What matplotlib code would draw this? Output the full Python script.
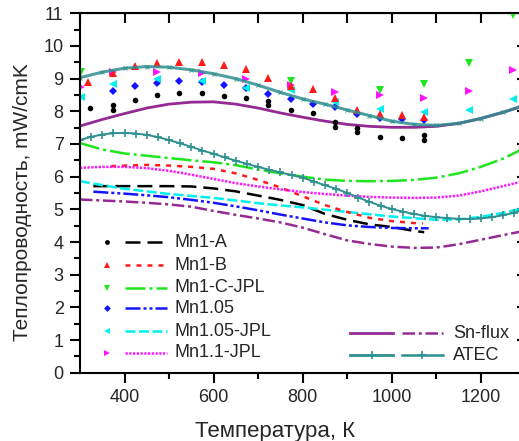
import matplotlib
matplotlib.use("Agg")
import matplotlib.pyplot as plt
import numpy as np

plt.rcParams["font.family"] = ["Liberation Sans", "DejaVu Sans"]
TXT = "#262626"

# ── Измерения (точки) ─────────────────────────────────────────────────────────
t_mn1a = [323, 373, 373, 423, 473, 523, 573, 623, 673, 723, 723, 773, 823,
          873, 873, 923, 923, 973, 1023, 1073, 1073]
k_mn1a = [8.09, 8.20, 8.05, 8.34, 8.49, 8.57, 8.56, 8.46, 8.41, 8.32, 8.18,
          8.05, 7.94, 7.68, 7.52, 7.48, 7.36, 7.22, 7.17, 7.27, 7.12]

t_mn1b = [318, 373, 423, 473, 523, 573, 623, 673, 723, 773, 823, 873, 923,
          973, 1023, 1073]
k_mn1b = [8.90, 9.16, 9.38, 9.48, 9.51, 9.51, 9.41, 9.29, 9.03, 8.78, 8.68,
          8.42, 8.03, 7.93, 7.88, 7.83]

t_mn1c = [303, 773, 973, 1073, 1173, 1273]
k_mn1c = [9.20, 8.93, 8.65, 8.85, 9.48, 10.94]

t_mn105 = [373, 423, 473, 523, 573, 623, 673, 723, 773, 823, 873, 923, 973,
           1023, 1073]
k_mn105 = [8.62, 8.77, 8.87, 8.92, 8.90, 8.80, 8.70, 8.53, 8.39, 8.23, 8.13,
           7.93, 7.80, 7.78, 7.73]

t_mn105j = [303, 373, 473, 573, 673, 773, 873, 973, 1073, 1173, 1273]
k_mn105j = [8.44, 8.85, 8.98, 8.93, 8.70, 8.65, 8.29, 8.08, 7.99, 8.05, 8.39]

t_mn11j = [303, 373, 473, 573, 673, 773, 873, 973, 1073, 1173, 1273]
k_mn11j = [8.75, 9.20, 9.20, 9.18, 8.98, 8.80, 8.60, 8.51, 8.42, 8.62, 9.26]

# ── Расчётные кривые ─────────────────────────────────────────────────────────
t_fit_a = [330, 400, 450, 500, 550, 600, 650, 700, 750, 800, 850, 900, 950,
           1000, 1050, 1073]
fit_a = [5.71, 5.71, 5.71, 5.71, 5.70, 5.64, 5.55, 5.42, 5.29, 5.13, 4.86,
         4.68, 4.54, 4.46, 4.34, 4.30]

t_fit_b = [370, 400, 450, 500, 550, 600, 650, 700, 750, 800, 850, 900, 950,
           1000, 1050, 1070]
fit_b = [6.32, 6.34, 6.36, 6.34, 6.30, 6.24, 6.10, 5.90, 5.67, 5.40, 5.13,
         4.92, 4.74, 4.64, 4.58, 4.57]

t_fit_105 = [330, 400, 450, 500, 550, 600, 650, 700, 750, 800, 850, 900, 950,
             1000, 1050, 1083]
fit_105 = [5.54, 5.48, 5.43, 5.37, 5.29, 5.20, 5.09, 4.97, 4.84, 4.72, 4.60,
           4.51, 4.46, 4.43, 4.42, 4.42]

t_full = [300, 350, 400, 450, 500, 550, 600, 650, 700, 750, 800, 850, 900,
          950, 1000, 1050, 1100, 1150, 1200, 1250, 1290]
fit_c = [7.03, 6.83, 6.71, 6.64, 6.57, 6.50, 6.44, 6.35, 6.22, 6.10, 6.00,
         5.91, 5.87, 5.86, 5.87, 5.90, 5.97, 6.10, 6.30, 6.55, 6.82]
fit_105j = [5.86, 5.74, 5.63, 5.55, 5.47, 5.41, 5.35, 5.27, 5.19, 5.12, 5.06,
            4.99, 4.92, 4.85, 4.78, 4.73, 4.68, 4.69, 4.77, 4.89, 5.02]
fit_11j = [6.27, 6.30, 6.30, 6.26, 6.18, 6.06, 5.93, 5.80, 5.70, 5.61, 5.53,
           5.47, 5.42, 5.38, 5.36, 5.35, 5.36, 5.42, 5.55, 5.71, 5.84]
sn_top = [7.55, 7.75, 7.93, 8.10, 8.22, 8.28, 8.29, 8.22, 8.10, 7.95, 7.82,
          7.70, 7.60, 7.54, 7.51, 7.51, 7.54, 7.63, 7.78, 7.97, 8.14]
sn_low = [5.30, 5.27, 5.24, 5.20, 5.15, 5.08, 4.95, 4.83, 4.72, 4.60, 4.44,
          4.24, 4.05, 3.94, 3.86, 3.82, 3.83, 3.93, 4.07, 4.21, 4.32]
atec_top = [9.03, 9.20, 9.32, 9.37, 9.35, 9.27, 9.15, 9.00, 8.80, 8.58, 8.38,
            8.22, 8.04, 7.87, 7.70, 7.60, 7.57, 7.63, 7.78, 7.97, 8.15]

t_atec_low = [300, 325, 350, 375, 400, 425, 450, 475, 500, 525, 550, 575, 600,
              625, 650, 675, 700, 725, 750, 775, 800, 825, 850, 875, 900, 925,
              950, 975, 1000, 1025, 1050, 1075, 1100, 1125, 1150, 1175, 1200,
              1225, 1250, 1275, 1290]
atec_low = [7.12, 7.22, 7.29, 7.33, 7.34, 7.32, 7.28, 7.21, 7.12, 7.02, 6.91,
            6.80, 6.70, 6.59, 6.49, 6.39, 6.30, 6.21, 6.13, 6.05, 5.97, 5.85,
            5.74, 5.63, 5.50, 5.36, 5.23, 5.11, 5.01, 4.93, 4.86, 4.80, 4.76,
            4.73, 4.71, 4.70, 4.72, 4.76, 4.82, 4.90, 4.95]

C_BLACK, C_RED, C_GREEN = "black", "#ff1a1a", "#1ee61e"
C_BLUE, C_CYAN, C_MAG = "#1414ff", "#00f0f0", "#ff14ff"
C_SN, C_ATEC = "#952a95", "#2f9090"

DASH_A = (6, 2.8)
DASH_B = (2, 2.4)
DASH_C = (8, 1.6, 1.2, 1.6)
DASH_105 = (6, 1.2, 1.2, 1.2, 1.2, 1.2)
DASH_105J = (4, 1.4)
DASH_11J = (0.9, 0.6)
DASH_SN = (5, 1.5, 1.2, 1.5)

fig = plt.figure(figsize=(5.19, 4.41), dpi=100)
ax = fig.add_axes([80 / 519, (441 - 372.7) / 441, 445.3 / 519, 359.4 / 441])

LW = 1.8
ax.plot(t_full, sn_low, color=C_SN, lw=LW, dashes=DASH_SN)
ax.plot(t_fit_a, fit_a, color=C_BLACK, lw=LW, dashes=DASH_A)
ax.plot(t_fit_105, fit_105, color=C_BLUE, lw=LW, dashes=DASH_105)
ax.plot(t_full, fit_105j, color=C_CYAN, lw=LW, dashes=DASH_105J)
ax.plot(t_fit_b, fit_b, color=C_RED, lw=LW, dashes=DASH_B)
ax.plot(t_full, fit_11j, color=C_MAG, lw=LW, dashes=DASH_11J)
ax.plot(t_full, fit_c, color=C_GREEN, lw=LW, dashes=DASH_C)
ax.plot(t_atec_low, atec_low, color=C_ATEC, lw=1.4, marker="+", ms=6, mew=1.2)
ax.plot(t_full, sn_top, color=C_SN, lw=2.0)

MS = 5.5
ax.plot(t_mn1a, k_mn1a, "o", color=C_BLACK, ms=4, mew=0)
ax.plot(t_mn105, k_mn105, "D", color=C_BLUE, ms=4.5, mew=0)
ax.plot(t_mn11j, k_mn11j, ">", color=C_MAG, ms=MS, mew=0)
ax.plot(t_mn105j, k_mn105j, "<", color=C_CYAN, ms=MS, mew=0)
ax.plot(t_mn1c, k_mn1c, "v", color=C_GREEN, ms=MS, mew=0)
ax.plot(t_mn1b, k_mn1b, "^", color=C_RED, ms=MS + 0.5, mew=0)
ax.plot(t_full, atec_top, color=C_ATEC, lw=2.2, alpha=0.85,
        marker="x", ms=3, mew=0.8)

# ── Оси ──────────────────────────────────────────────────────────────────────
ax.set_xlim(300, 1300)
ax.set_ylim(0, 11)
ax.set_xticks([400, 600, 800, 1000, 1200])
ax.set_xticks([500, 700, 900, 1100], minor=True)
ax.set_yticks(np.arange(0, 12, 1))
ax.set_yticks(np.arange(0.5, 11, 1), minor=True)
for side in ["left", "bottom", "top", "right"]:
    ax.spines[side].set_linewidth(1.5)
ax.tick_params(which="major", direction="out", length=7.2, width=1.5,
               labelsize=13, colors="black", labelcolor=TXT, pad=4.5)
ax.tick_params(which="minor", direction="out", length=4.5, width=1.5)

top = ax.secondary_xaxis("top")
top.set_xticks(np.arange(300, 1301, 100))
top.tick_params(direction="in", length=7, width=1.5, labeltop=False)
right = ax.secondary_yaxis("right")
right.set_yticks(np.arange(0, 12, 1))
right.tick_params(direction="in", length=6, width=1.5, labelright=False)

ax.set_xlabel("Температура, К", fontsize=16, color=TXT)
ax.set_ylabel("Теплопроводность, mW/cmK", fontsize=15, color=TXT)
ax.xaxis.set_label_coords(0.438, -0.133)
ax.yaxis.set_label_coords(-0.108, 0.476)

# ── Легенда ──────────────────────────────────────────────────────────────────
tr = ax.transAxes
rows = [0.363, 0.299, 0.236, 0.179, 0.116, 0.056]
entries = [
    ("Mn1-A", "o", 3.5, C_BLACK, DASH_A),
    ("Mn1-B", "^", 4.5, C_RED, DASH_B),
    ("Mn1-C-JPL", "v", 4.5, C_GREEN, DASH_C),
    ("Mn1.05", "D", 3.5, C_BLUE, DASH_105),
    ("Mn1.05-JPL", "<", 4.5, C_CYAN, DASH_105J),
    ("Mn1.1-JPL", ">", 4.5, C_MAG, DASH_11J),
]
for fy, (name, mk, ms, col, dash) in zip(rows, entries):
    ax.plot([0.060], [fy], mk, color=col, ms=ms, mew=0, transform=tr,
            clip_on=False)
    ax.plot([0.101, 0.195], [fy, fy], color=col, lw=LW, dashes=dash,
            transform=tr, clip_on=False)
    ax.text(0.212, fy, name, transform=tr, fontsize=13, color=TXT,
            va="center", ha="left")

for fy, name, col, low_kw in [
    (0.110, "Sn-flux", C_SN, dict(dashes=DASH_SN)),
    (0.049, "ATEC", C_ATEC, dict(marker="+", ms=6, mew=1.2, markevery=[1])),
]:
    hi_kw = dict(marker="+", ms=6, mew=1.2, markevery=[1]) if name == "ATEC" else {}
    ax.plot([0.606, 0.655, 0.704], [fy] * 3, color=col, lw=2.0,
            transform=tr, clip_on=False, **hi_kw)
    ax.plot([0.722, 0.769, 0.816], [fy] * 3, color=col, lw=LW,
            transform=tr, clip_on=False, **low_kw)
    ax.text(0.838, fy, name, transform=tr, fontsize=13, color=TXT,
            va="center", ha="left")

fig.savefig("out.png", dpi=100)
